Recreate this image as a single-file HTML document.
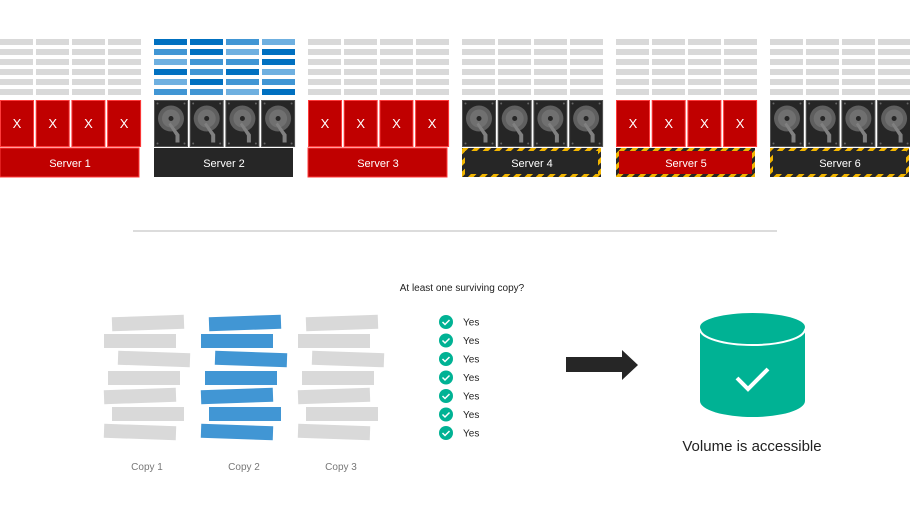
<!DOCTYPE html>
<html><head><meta charset="utf-8"><style>
html,body{margin:0;padding:0;background:#fff;width:910px;height:516px;overflow:hidden}
svg{display:block;font-family:"Segoe UI","Liberation Sans",sans-serif}
</style></head><body>
<svg id="d" width="910" height="516" viewBox="0 0 910 516">
<defs>
<pattern id="hz" width="8" height="8" patternUnits="userSpaceOnUse" patternTransform="rotate(45)">
<rect width="8" height="8" fill="#262626"/><rect width="4" height="8" fill="#f2b500"/></pattern>
<g id="disk">
<rect x="0" y="0" width="33" height="46" fill="#262626" stroke="#555" stroke-width="1"/>
<circle cx="3" cy="3" r="1" fill="#666"/><circle cx="30" cy="3" r="1" fill="#666"/>
<circle cx="3" cy="43" r="1" fill="#666"/><circle cx="30" cy="43" r="1" fill="#666"/>
<circle cx="16.5" cy="18" r="13" fill="#5f5f5f"/><circle cx="16.5" cy="18" r="9" fill="#707070"/>
<circle cx="16.5" cy="18" r="2.5" fill="#262626"/>
<path d="M16 22 L25 34 L25 42 L21 42 L21 35 L14 24 Z" fill="#808080"/>
</g>
</defs>
<g id="servers"></g>
<line x1="133" y1="231" x2="777" y2="231" stroke="#d0d0d0" stroke-width="1.5"/>
<text x="462" y="291" font-size="10" text-anchor="middle" fill="#222">At least one surviving copy?</text>
<g id="copies"></g>
<g id="checks"></g>
<path d="M566 357 H622 V350 L638 365 L622 380 V372 H566 Z" fill="#262626"/>
<g>
<path d="M700 329 V401 A52.5 16 0 0 0 805 401 V329 Z" fill="#00b294"/>
<ellipse cx="752.5" cy="329" rx="52.5" ry="16" fill="#00b294" stroke="#fff" stroke-width="2"/>
<ellipse cx="752.5" cy="327" rx="52.5" ry="14" fill="#00b294"/>
<path d="M737 378 L748 389 L768 369" fill="none" stroke="#fff" stroke-width="4"/>
</g>
<text x="752" y="451" font-size="15" text-anchor="middle" fill="#222">Volume is accessible</text>
</svg>
<script>
const serverNames=["Server 1","Server 2","Server 3","Server 4","Server 5","Server 6"];
const serverFailed=[true,false,true,false,true,false];
const serverHazard=[false,false,false,true,true,true];
const serverDataBlue=[false,true,false,false,false,false];
const blueShades=[[0,0,1,2],[1,0,2,0],[2,1,1,0],[0,1,0,2],[2,0,1,1],[1,1,2,0]];
const copyLabels=["Copy 1","Copy 2","Copy 3"];
const checkLabels=["Yes","Yes","Yes","Yes","Yes","Yes","Yes"];
const NS="http://www.w3.org/2000/svg";
function el(t,a,p){const e=document.createElementNS(NS,t);for(const k in a)e.setAttribute(k,a[k]);p.appendChild(e);return e;}
const sg=document.getElementById('servers');
const blues=["#0070c0","#4196d4","#6fb0e0"];
serverNames.forEach((n,i)=>{
  const x=i*154;
  const g=el('g',{},sg);
  
  
  for(let r=0;r<6;r++)for(let c=0;c<4;c++){
    el('rect',{x:x+c*36,y:39+r*10,width:33,height:6,fill:serverDataBlue[i]?blues[blueShades[r][c]]:"#d9d9d9"},g);
  }
  for(let c=0;c<4;c++){
    const cx=x+c*35.7;
    if(serverFailed[i]){
      el('rect',{x:cx+0.5,y:100.5,width:33,height:46,fill:"#c00000",stroke:"#ff3b3b","stroke-width":1},g);
      const t=el('text',{x:cx+17,y:128,"font-size":13,"text-anchor":"middle",fill:"#fff"},g);t.textContent="X";
    } else {
      el('use',{href:"#disk",x:cx+0.5,y:100.5},g);
    }
  }
  const fill=serverFailed[i]?"#c00000":"#262626";
  if(serverHazard[i]){
    el('rect',{x:x,y:148,width:139,height:29,fill:"url(#hz)"},g);
    el('rect',{x:x+3,y:151,width:133,height:23,fill:fill},g);
  } else {
    el('rect',{x:x,y:148,width:139,height:29,fill:fill,stroke:serverFailed[i]?"#ff3b3b":"none","stroke-width":1},g);
  }
  const t=el('text',{x:x+70,y:167,"font-size":11,"text-anchor":"middle",fill:"#fff"},g);t.textContent=n;
  
  
});
const cg=document.getElementById('copies');
const barOff=[[112,323,-2],[104,341,0],[118,359,2],[108,378,0],[104,396,-2],[112,414,0],[104,432,2]];
copyLabels.forEach((lab,i)=>{
  const dx=i*97;
  const g=el('g',{},cg);
  
  
  barOff.forEach(b=>{
    el('rect',{x:b[0]+dx,y:b[1]-7,width:72,height:14,fill:i==1?"#4196d4":"#d9d9d9",transform:`rotate(${b[2]} ${b[0]+dx+36} ${b[1]})`},g);
  });
  const t=el('text',{x:147+dx,y:470,"font-size":10,"text-anchor":"middle",fill:"#777"},g);t.textContent=lab;
});
const kg=document.getElementById('checks');
checkLabels.forEach((l,i)=>{
  const y=322+i*18.5;
  const g=el('g',{},kg);
  
  
  el('circle',{cx:446,cy:y,r:7,fill:"#00b294"},g);
  el('path',{d:`M442.5 ${y} L445 ${y+2.5} L449.5 ${y-2}`,fill:"none",stroke:"#fff","stroke-width":1.5},g);
  const t=el('text',{x:463,y:y+3.5,"font-size":10,fill:"#222"},g);t.textContent=l;
});
</script>
</body></html>
